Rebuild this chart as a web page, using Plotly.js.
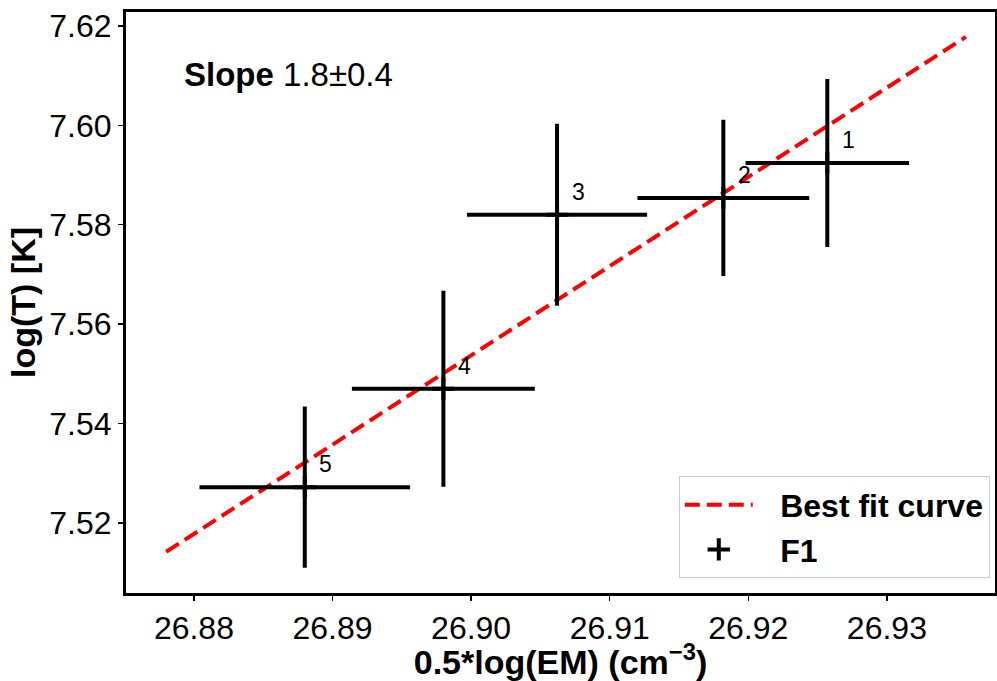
<!DOCTYPE html>
<html>
<head>
<meta charset="utf-8">
<script src="https://cdn.plot.ly/plotly-3.0.1.min.js"></script>
<style>html,body{margin:0;padding:0;background:#fff;}#chart{width:997px;height:681px;}</style>
</head>
<body>
<div id="chart"></div>
<script>
// Data
const pointLabels = ["1", "2", "3", "4", "5"];
const emX = [26.9257, 26.9182, 26.9062, 26.8980, 26.8880];
const emXErr = [0.0059, 0.0062, 0.0065, 0.0066, 0.0076];
const logT = [7.5924, 7.5854, 7.5820, 7.5470, 7.5272];
const logTErr = [0.0169, 0.0157, 0.0183, 0.0197, 0.0162];
const fitX = [26.8780, 26.9357];
const fitY = [7.5142, 7.6178];
const slopeText = "<b>Slope</b> 1.8\u00b10.4";
const xTicks = [26.88, 26.89, 26.90, 26.91, 26.92, 26.93];
const yTicks = [7.52, 7.54, 7.56, 7.58, 7.60, 7.62];

const FONT = "Liberation Sans, Arial, Helvetica, sans-serif";
const PAD = "\u2002\u2009";

const traces = [
  {
    x: fitX, y: fitY, mode: "lines", name: PAD + "<b>Best fit curve</b>",
    line: {color: "#ff0000", width: 4, dash: "15px,7px"}
  },
  {
    x: emX, y: logT, mode: "markers", name: PAD + "<b>F1</b>",
    marker: {symbol: "cross-thin", size: 16, color: "#000", line: {color: "#000", width: 4}},
    error_x: {type: "data", array: emXErr, visible: true, color: "#000", thickness: 4, width: 0},
    error_y: {type: "data", array: logTErr, visible: true, color: "#000", thickness: 4, width: 0}
  }
];

const annotations = pointLabels.map((t, i) => ({
  x: emX[i], y: logT[i], xref: "x", yref: "y", text: t, showarrow: false,
  xshift: 21, yshift: 23, font: {family: FONT, size: 23, color: "#000"}
}));
annotations.push({
  x: 0.065, y: 0.892, xref: "paper", yref: "paper", xanchor: "left", yanchor: "middle",
  text: slopeText, showarrow: false, font: {family: FONT, size: 33, color: "#000"}
});

const layout = {
  width: 997, height: 681,
  margin: {l: 126, r: 2, t: 12, b: 88},
  paper_bgcolor: "#fff", plot_bgcolor: "#fff",
  font: {family: FONT, color: "#000"},
  showlegend: true,
  legend: {
    x: 0.994, y: 0.025, xanchor: "right", yanchor: "bottom",
    bgcolor: "#fff", bordercolor: "#cccccc", borderwidth: 1,
    font: {family: FONT, size: 32, color: "#000"},
    traceorder: "normal", itemwidth: 68
  },
  xaxis: {
    range: [26.8751, 26.9378], tickvals: xTicks, ticktext: xTicks.map(v => v.toFixed(2)),
    showgrid: false, zeroline: false, showline: true, mirror: true, linecolor: "#000", linewidth: 3,
    ticks: "outside", ticklen: 5, tickwidth: 1.5, tickcolor: "#000",
    tickfont: {family: FONT, size: 32, color: "#000"},
    title: {text: "<b>0.5*log(EM) (cm<sup>\u22123</sup>)</b>", font: {family: FONT, size: 34, color: "#000"}, standoff: 6}
  },
  yaxis: {
    range: [7.5059, 7.6228], tickvals: yTicks, ticktext: yTicks.map(v => v.toFixed(2)),
    showgrid: false, zeroline: false, showline: true, mirror: true, linecolor: "#000", linewidth: 3,
    ticks: "outside", ticklen: 5, tickwidth: 1.5, tickcolor: "#000",
    tickfont: {family: FONT, size: 32, color: "#000"},
    title: {text: "<b>log(T) [K]</b>", font: {family: FONT, size: 34, color: "#000"}, standoff: 4}
  },
  annotations: annotations
};

Plotly.newPlot("chart", traces, layout, {displayModeBar: false, staticPlot: true});
</script>
</body>
</html>
